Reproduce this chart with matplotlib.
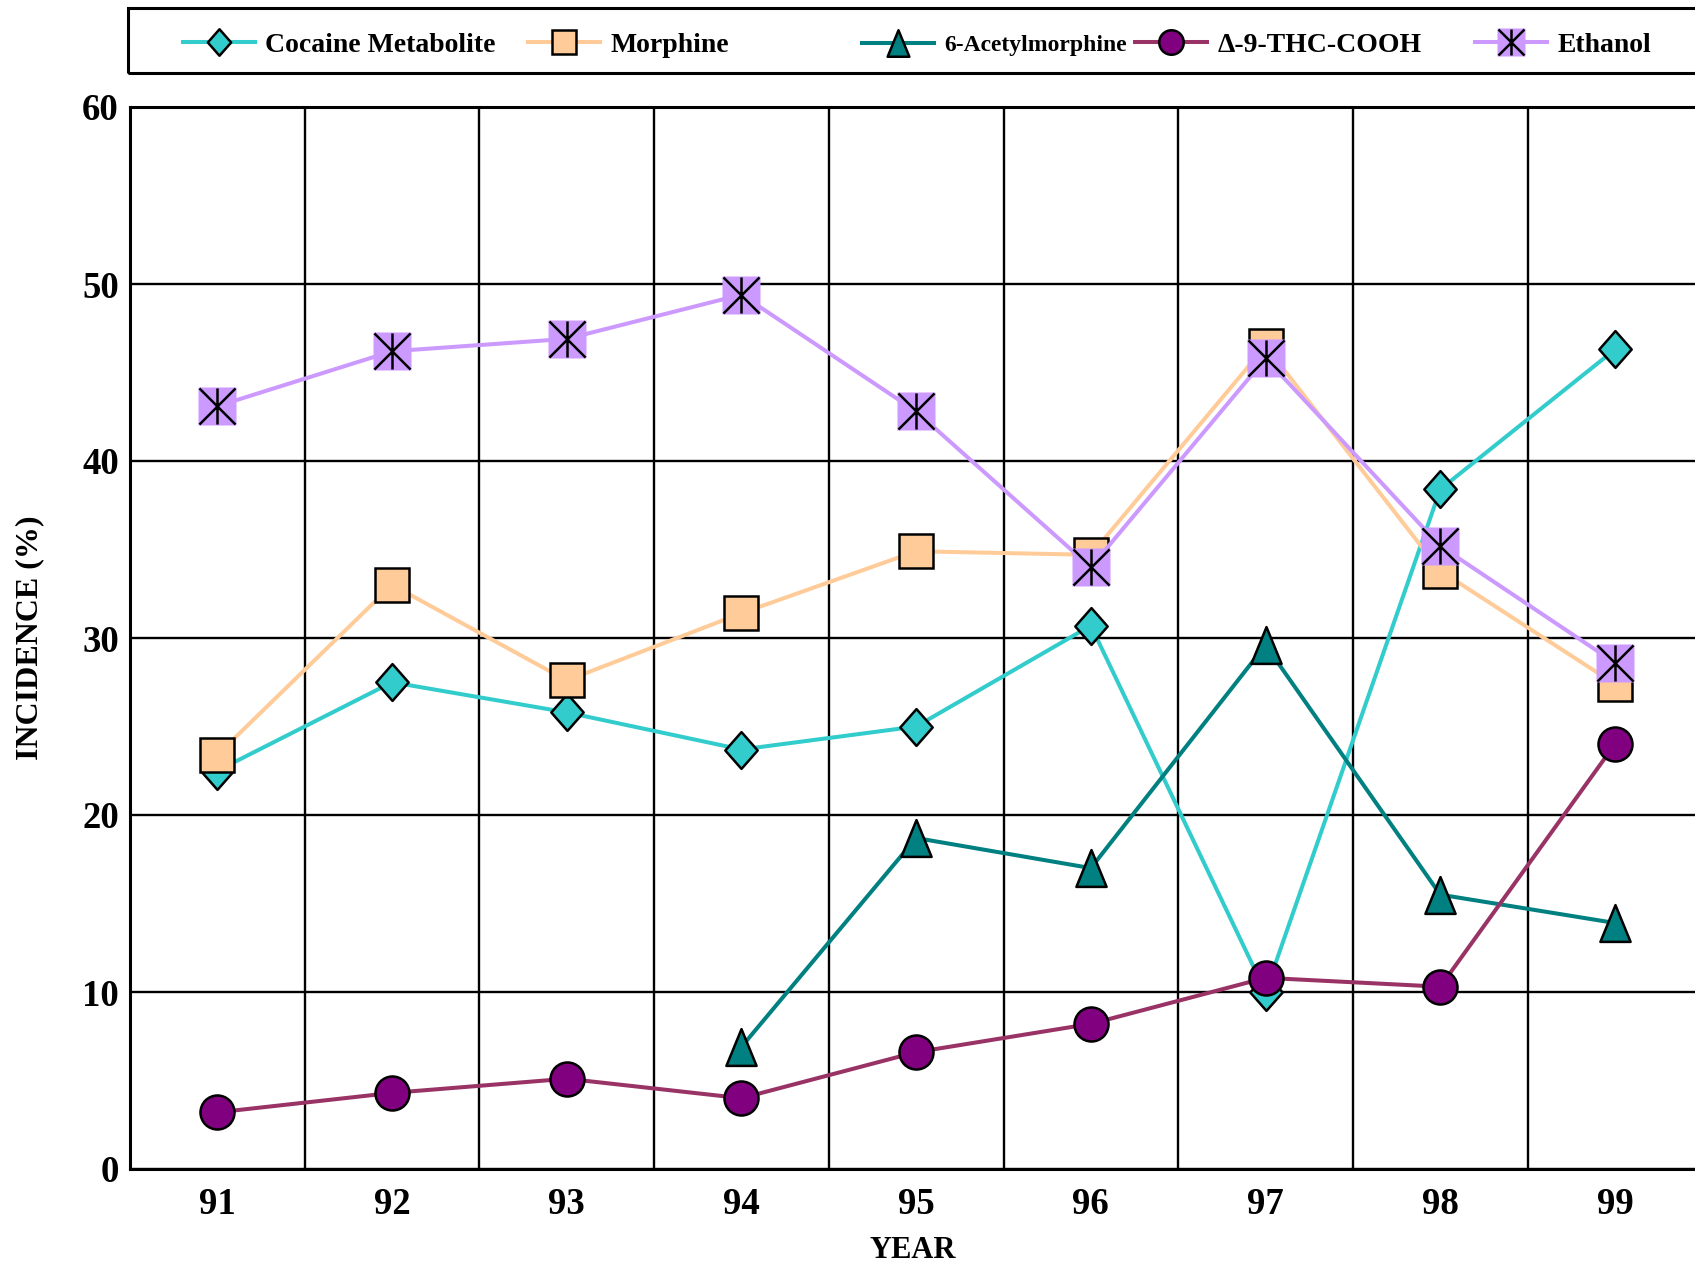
import matplotlib
matplotlib.use('Agg')
import matplotlib.pyplot as plt
from matplotlib.path import Path
from matplotlib.patches import Rectangle
from matplotlib.legend_handler import HandlerTuple

plt.rcParams['font.family'] = ['Liberation Serif', 'DejaVu Serif']
plt.rcParams['font.weight'] = 'bold'

# data
years = [91, 92, 93, 94, 95, 96, 97, 98, 99]
cocaine = [22.5, 27.5, 25.8, 23.7, 25.0, 30.7, 10.0, 38.4, 46.3]
morphine = [23.4, 33.0, 27.6, 31.4, 34.9, 34.7, 46.5, 33.8, 27.4]
acetyl_years = [94, 95, 96, 97, 98, 99]
acetyl = [6.9, 18.7, 17.0, 29.6, 15.5, 13.9]
thc = [3.2, 4.3, 5.1, 4.0, 6.6, 8.2, 10.8, 10.3, 24.0]
ethanol = [43.1, 46.2, 46.9, 49.4, 42.8, 34.0, 45.8, 35.2, 28.6]

labels = ['Cocaine Metabolite', 'Morphine', '6-Acetylmorphine',
          'Δ-9-THC-COOH', 'Ethanol']
yticks = [0, 10, 20, 30, 40, 50, 60]

# custom marker shapes
M, L, C = Path.MOVETO, Path.LINETO, Path.CLOSEPOLY
diamond = Path([(0, 1), (0.88, 0), (0, -1), (-0.88, 0), (0, 1)], [M, L, L, L, C])
triangle = Path([(0, 1), (-0.82, -1), (0.82, -1), (0, 1)], [M, L, L, C])
star = Path([(-1, -1), (1, 1), (-1, 1), (1, -1), (0, -1), (0, 1)], [M, L, M, L, M, L])

W, H = 1695, 1264
fig = plt.figure(figsize=(W / 100, H / 100), dpi=100)
ax = fig.add_axes([130 / W, 1 - 1169 / H, (W - 130) / W, (1169 - 107) / H])

lw = 2.9
mew = 1.8
h1, = ax.plot(years, cocaine, color='#33CCCC', lw=lw, marker=diamond, ms=26.5,
              mfc='#33CCCC', mec='black', mew=mew)
h2, = ax.plot(years, morphine, color='#FFCC99', lw=lw, marker='s', ms=24.5,
              mfc='#FFCC99', mec='black', mew=mew)
h3, = ax.plot(acetyl_years, acetyl, color='#008080', lw=lw, marker=triangle, ms=26.5,
              mfc='#008080', mec='black', mew=mew)
h4, = ax.plot(years, thc, color='#993366', lw=lw, marker='o', ms=24.5,
              mfc='#800080', mec='black', mew=mew)
h5, = ax.plot(years, ethanol, color='#CC99FF', lw=lw, marker='s', ms=27.5,
              mfc='#CC99FF', mec='none')
h5b, = ax.plot(years, ethanol, ls='none', marker=star, ms=26,
               mfc='none', mec='black', mew=1.8)

ax.set_xlim(90.5, 90.5 + (W - 130) / 174.7)
ax.set_ylim(0, 60)
ax.set_xticks(years)
ax.set_xticklabels([str(y) for y in years])
ax.set_yticks(yticks)
ax.set_xticks([y + 0.5 for y in years[:-1]], minor=True)
ax.tick_params(which='both', length=0)
ax.tick_params(axis='x', labelsize=26.5, pad=13)
ax.tick_params(axis='y', labelsize=26.5, pad=8)

ax.grid(True, axis='y', which='major', color='black', lw=1.7)
ax.grid(True, axis='x', which='minor', color='black', lw=1.7)
ax.set_axisbelow(True)
for side in ['left', 'bottom', 'top']:
    ax.spines[side].set_linewidth(2.2)
ax.spines['right'].set_visible(False)

ax.set_xlabel('YEAR', fontsize=22, fontweight='bold')
ax.xaxis.set_label_coords(0.5, (1169 - 1251) / 1062)
ax.xaxis.label.set_verticalalignment('center')
ax.set_ylabel('INCIDENCE (%)', fontsize=23, fontweight='bold')
ax.yaxis.set_label_coords((30 - 130) / 1565, 0.5)
ax.yaxis.label.set_verticalalignment('center')

# legend: box across the top, entries placed one by one
fig.add_artist(Rectangle((128 / W, 1 - 73 / H), 1.0, 65 / H, transform=fig.transFigure,
                         fill=False, edgecolor='black', lw=2.2, clip_on=False))
handles = [h1, h2, h3, h4, (h5, h5b)]
starts = [183, 528, 862, 1135, 1475]
sizes = [20, 20, 17, 20, 20]
for hd, lab, x0, fs in zip(handles, labels, starts, sizes):
    fig.legend([hd], [lab], loc='center left', bbox_to_anchor=(x0 / W, 1 - 45 / H),
               frameon=False, fontsize=fs, handlelength=52 / fs * 1.0,
               handletextpad=7.2 / fs, borderpad=0, borderaxespad=0,
               markerscale=0.72,
               handler_map={tuple: HandlerTuple(ndivide=1, pad=0)})

fig.savefig('out.png', dpi=100)
